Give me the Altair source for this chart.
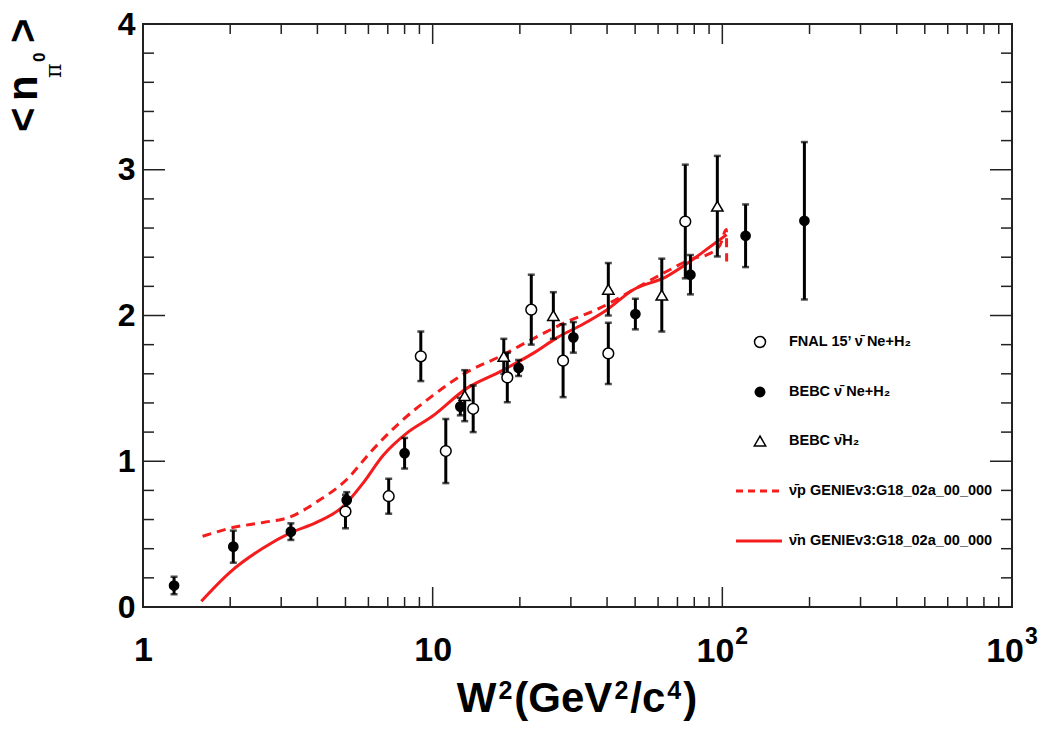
import altair as alt
import pandas as pd

# ---------------- data ----------------
fnal_x = [5.0, 7.05, 9.1, 11.1, 13.8, 18.1, 21.9, 28.2, 40.4, 74.5]
fnal_y = [0.655, 0.76, 1.72, 1.07, 1.36, 1.575, 2.04, 1.69, 1.74, 2.645]
fnal_err = [0.115, 0.12, 0.17, 0.22, 0.16, 0.17, 0.24, 0.25, 0.21, 0.39]

bebc_ne_x = [1.28, 2.05, 3.24, 5.05, 8.0, 12.46, 19.8, 30.6, 50.1, 77.6, 120.3, 192.0]
bebc_ne_y = [0.147, 0.414, 0.517, 0.733, 1.055, 1.375, 1.64, 1.85, 2.01, 2.28, 2.547, 2.65]
bebc_ne_err = [0.06, 0.11, 0.057, 0.055, 0.105, 0.06, 0.055, 0.105, 0.105, 0.135, 0.215, 0.54]

bebc_h2_x = [12.9, 17.6, 26.1, 40.4, 61.8, 96.1]
bebc_h2_y = [1.45, 1.72, 2.0, 2.18, 2.14, 2.75]
bebc_h2_err = [0.175, 0.12, 0.16, 0.18, 0.25, 0.345]

# GENIE predictions
n_x = [1.59, 2.0, 2.6, 3.24, 3.97, 4.91, 5.75, 6.74, 8.1, 10.0, 13.1, 16.9,
       22.2, 27.0, 33.0, 40.0, 49.1, 63.9, 77.3, 87.7, 103.5]
n_y = [0.04, 0.24, 0.405, 0.51, 0.58, 0.69, 0.85, 1.04, 1.19, 1.31, 1.50, 1.61,
       1.74, 1.85, 1.94, 2.04, 2.175, 2.265, 2.37, 2.45, 2.555]

p_x = [1.606, 2.04, 2.6, 3.24, 3.97, 5.05, 6.15, 7.7, 10.0, 13.1, 16.9, 22.2,
       28.9, 37.7, 49.1, 63.9, 79.0, 89.3, 98.0, 103.3, 103.5]
p_y = [0.485, 0.545, 0.58, 0.62, 0.72, 0.875, 1.07, 1.265, 1.45, 1.61, 1.715, 1.84,
       1.955, 2.05, 2.175, 2.30, 2.39, 2.42, 2.48, 2.59, 2.37]

x_major = [1, 10, 100, 1000]
x_minor = [m * d for d in (1, 10, 100) for m in range(2, 10)]
x_pow_ticks = [100, 1000]
x_pow_exps = ["2", "3"]
y_major = [0, 1, 2, 3, 4]
y_minor = [0.2, 0.4, 0.6, 0.8, 1.2, 1.4, 1.6, 1.8, 2.2, 2.4, 2.6, 2.8, 3.2, 3.4, 3.6, 3.8]

legend_labels = ["FNAL 15\u2019 \u03bd\u0304 Ne+H\u2082", "BEBC \u03bd\u0304 Ne+H\u2082",
                 "BEBC \u03bd\u0304H\u2082", "\u03bd\u0304p GENIEv3:G18_02a_00_000",
                 "\u03bd\u0304n GENIEv3:G18_02a_00_000"]

# x title pieces: (text, is_superscript)
x_title_parts = [("W", False), ("2", True), ("(GeV", False), ("2", True),
                 ("/c", False), ("4", True), (")", False)]

# ---------------- layout ----------------
W, H = 869, 583
PAD = {"left": 143, "top": 24, "right": 28, "bottom": 123}
FONT = "Liberation Sans"
RED = "#f41c1c"

xs = alt.Scale(type="log", domain=[1, 1000], nice=False)
ys = alt.Scale(domain=[0, 4], nice=False, zero=False)

x_axis = alt.Axis(values=x_major, ticks=False, domain=False, grid=False,
                  labelExpr="datum.value == 1 ? '1' : datum.value == 10 ? '10' : ''",
                  labelFont=FONT, labelFontWeight="bold", labelFontSize=34, labelColor="black",
                  labelPadding=26, labelFlush=False, labelOverlap=False, title="")
y_axis = alt.Axis(values=y_major, ticks=False, domain=False, grid=False,
                  labelFont=FONT, labelFontWeight="bold", labelFontSize=32, labelColor="black",
                  labelPadding=8, labelFlush=False, labelOverlap=False, title="")


def X(field):
    return alt.X(field, type="quantitative", scale=xs, axis=x_axis)


def Y(field):
    return alt.Y(field, type="quantitative", scale=ys, axis=y_axis)


def df_xy(x, y, err=None):
    d = pd.DataFrame({"x": x, "y": y})
    if err is not None:
        d["lo"] = [a - e for a, e in zip(y, err)]
        d["hi"] = [a + e for a, e in zip(y, err)]
    return d


fnal = df_xy(fnal_x, fnal_y, fnal_err)
bne = df_xy(bebc_ne_x, bebc_ne_y, bebc_ne_err)
bh2 = df_xy(bebc_h2_x, bebc_h2_y, bebc_h2_err)
curve_n = df_xy(n_x, n_y)
curve_p = df_xy(p_x, p_y)
curve_n["o"] = range(len(curve_n))
curve_p["o"] = range(len(curve_p))

one = alt.Data(values=[{"a": 1}])

layers = []

layers.append(alt.Chart(curve_n).mark_line(color=RED, strokeWidth=3, interpolate="monotone").encode(
    x=X("x"), y=Y("y"), order="o:Q"))
layers.append(alt.Chart(curve_p).mark_line(color=RED, strokeWidth=3, strokeDash=[9, 6], interpolate="monotone").encode(
    x=X("x"), y=Y("y"), order="o:Q"))


# inward ticks on all four sides
def xticks(vals, length):
    d = pd.DataFrame({"x": vals})
    b = alt.Chart(d).mark_rule(color="#222", strokeWidth=1.5).encode(
        x=X("x"), y=alt.value(H), y2=alt.value(H - length))
    t = alt.Chart(d).mark_rule(color="#222", strokeWidth=1.5).encode(
        x=X("x"), y=alt.value(0), y2=alt.value(length))
    return [b, t]


def yticks(vals, length):
    d = pd.DataFrame({"y": vals})
    l = alt.Chart(d).mark_rule(color="#222", strokeWidth=1.5).encode(
        y=Y("y"), x=alt.value(0), x2=alt.value(length))
    r = alt.Chart(d).mark_rule(color="#222", strokeWidth=1.5).encode(
        y=Y("y"), x=alt.value(W), x2=alt.value(W - length))
    return [l, r]


layers += xticks(x_major, 20) + xticks(x_minor, 10) + yticks(y_major, 22) + yticks(y_minor, 11)

# power-of-ten tick labels with raised exponents
pow_df = pd.DataFrame({"x": x_pow_ticks, "e": x_pow_exps})
layers.append(alt.Chart(pow_df).mark_text(text="10", font=FONT, fontWeight="bold", fontSize=34, color="black",
                                          align="right", baseline="alphabetic", dx=12).encode(
    x=X("x"), y=alt.value(H + 55)))
layers.append(alt.Chart(pow_df).mark_text(font=FONT, fontWeight="bold", fontSize=23, color="black",
                                          align="left", baseline="alphabetic", dx=13).encode(
    x=X("x"), y=alt.value(H + 37), text="e:N"))

# error bars + caps
for d in (fnal, bne, bh2):
    layers.append(alt.Chart(d).mark_rule(color="black", strokeWidth=3).encode(
        x=X("x"), y=Y("lo"), y2="hi:Q"))
    for c in ("lo", "hi"):
        layers.append(alt.Chart(d).mark_tick(color="black", orient="horizontal", size=7, thickness=2.5).encode(
            x=X("x"), y=Y(c)))

# markers
layers.append(alt.Chart(fnal).mark_point(shape="circle", size=115, filled=False, fill="white", fillOpacity=1,
                                         stroke="black", strokeWidth=1.5, opacity=1).encode(x=X("x"), y=Y("y")))
layers.append(alt.Chart(bne).mark_point(shape="circle", size=115, filled=True, color="black", opacity=1).encode(
    x=X("x"), y=Y("y")))
layers.append(alt.Chart(bh2).mark_point(shape="triangle-up", size=130, filled=False, fill="white", fillOpacity=1,
                                        stroke="black", strokeWidth=1.5, opacity=1).encode(x=X("x"), y=Y("y")))

# legend
LX_SYM, LX_TXT = 617, 646
LY = [318, 368, 417, 467, 517]


def txt(s, x, y, size, baseline="middle", **kw):
    return alt.Chart(one).mark_text(text=s, font=FONT, fontWeight="bold", fontSize=size, color="black",
                                    align="left", baseline=baseline, **kw).encode(x=alt.value(x), y=alt.value(y))


for lbl, yy in zip(legend_labels, LY):
    layers.append(txt(lbl, LX_TXT, yy, 14.5))
layers.append(alt.Chart(one).mark_point(shape="circle", size=120, filled=False, fill="white", fillOpacity=1,
                                        stroke="black", strokeWidth=1.5, opacity=1).encode(
    x=alt.value(LX_SYM), y=alt.value(LY[0])))
layers.append(alt.Chart(one).mark_point(shape="circle", size=120, filled=True, color="black", opacity=1).encode(
    x=alt.value(LX_SYM), y=alt.value(LY[1])))
layers.append(alt.Chart(one).mark_point(shape="triangle-up", size=130, filled=False, fill="white", fillOpacity=1,
                                        stroke="black", strokeWidth=1.5, opacity=1).encode(
    x=alt.value(LX_SYM), y=alt.value(LY[2])))
layers.append(alt.Chart(one).mark_rule(color=RED, strokeWidth=3, strokeDash=[7, 5]).encode(
    x=alt.value(593), x2=alt.value(639), y=alt.value(LY[3])))
layers.append(alt.Chart(one).mark_rule(color=RED, strokeWidth=3).encode(
    x=alt.value(593), x2=alt.value(639), y=alt.value(LY[4])))

# x-axis title composed of pieces (Helvetica-bold advance widths, em units)
ADV = {"W": 0.944, "(": 0.333, "G": 0.778, "e": 0.556, "V": 0.667, "/": 0.278, "c": 0.556, ")": 0.333,
       "2": 0.556, "4": 0.556}
MAIN_FS, SUP_FS, GAP = 42, 25, 2
widths = []
for s, sup in x_title_parts:
    fs = SUP_FS if sup else MAIN_FS
    w = sum(ADV[ch] for ch in s) * fs + (2 * GAP if sup else 0)
    widths.append(w)
cx = 434 - sum(widths) / 2
for (s, sup), w in zip(x_title_parts, widths):
    if sup:
        layers.append(txt(s, cx + GAP, H + 92, SUP_FS, baseline="alphabetic"))
    else:
        layers.append(txt(s, cx, H + 105, MAIN_FS, baseline="alphabetic"))
    cx += w

# y-axis title  <n_{pi^0}>  (rotated)
layers.append(txt("<", -106, 108, 42, baseline="alphabetic", angle=270))
layers.append(txt("n", -106, 77, 42, baseline="alphabetic", angle=270))
layers.append(alt.Chart(one).mark_text(text="\u03c0", font="DejaVu Serif", fontSize=22, color="black",
                                       align="left", baseline="alphabetic", angle=270).encode(
    x=alt.value(-82), y=alt.value(54)))
layers.append(txt("0", -98, 38, 17, baseline="alphabetic", angle=270))
layers.append(txt(">", -106, 19, 42, baseline="alphabetic", angle=270))

chart = alt.layer(*layers).properties(
    width=W, height=H,
    autosize=alt.AutoSizeParams(type="none"),
    padding=PAD,
    background="white",
).configure_view(stroke="#222", strokeWidth=2)

chart.save("out.html", embed_options={"renderer": "svg", "actions": False})
